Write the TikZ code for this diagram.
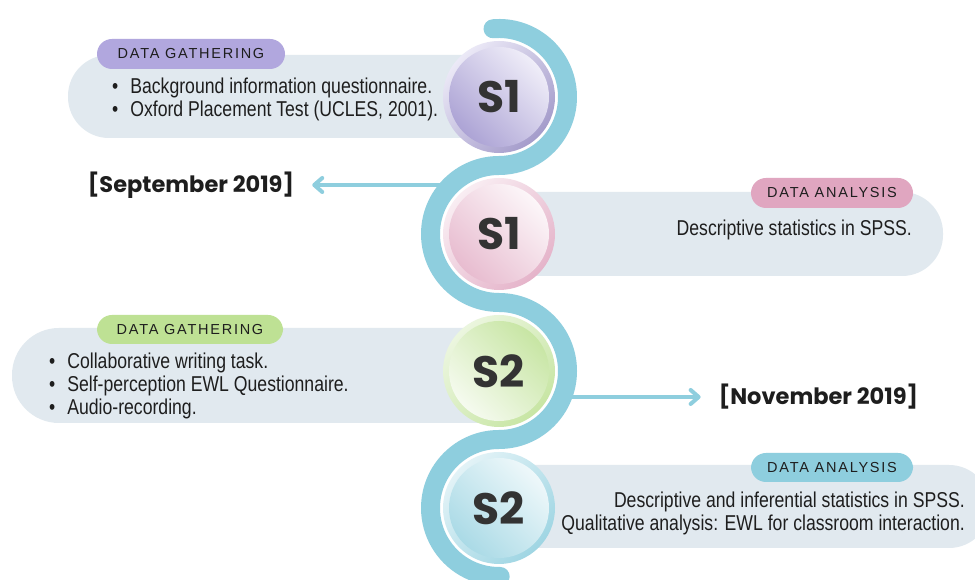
\documentclass[tikz,border=0pt]{standalone}
\usepackage{fontspec}
\setmainfont{Liberation Sans}
\newfontfamily\bodyfont{Liberation Sans}[FakeStretch=0.82]
\newfontfamily\tagfont{Liberation Sans}[LetterSpace=12]
\newfontfamily\stagefont{Poppins}
\usetikzlibrary{arrows.meta,positioning}
\definecolor{bandblue}{RGB}{142,206,222}
\definecolor{panelgrey}{RGB}{225,233,239}
\definecolor{inkdark}{RGB}{30,30,30}
\definecolor{stagegrey}{RGB}{51,51,51}
\definecolor{tagpurple}{RGB}{177,167,222}
\definecolor{tagpink}{RGB}{224,166,192}
\definecolor{taggreen}{RGB}{190,225,148}
\definecolor{tagblue}{RGB}{142,206,222}

\begin{document}
\begin{tikzpicture}[x=1pt, y=1pt,
    panel/.style={fill=panelgrey, rounded corners=41pt, minimum height=83pt, inner sep=0pt},
    tag/.style={rounded corners=15pt, minimum height=30pt, inner sep=0pt, text=inkdark, font=\tagfont\fontsize{14.5}{16}\selectfont},
    ring/.style={circle, minimum size=112pt, inner sep=0pt},
    disc/.style={circle, minimum size=100pt, inner sep=0pt, text=stagegrey, font=\stagefont\bfseries\fontsize{44}{44}\selectfont},
    band/.style={draw=bandblue, line width=19pt, line cap=round},
    arrow/.style={draw=bandblue, line width=4pt, -{Straight Barb[round, length=8pt, width=14pt]}, shorten >=18pt},
    date/.style={inner sep=0pt, text=inkdark, font=\stagefont\bfseries\fontsize{22.5}{26}\selectfont},
    body/.style={inner sep=0pt, text=inkdark, font=\bodyfont\fontsize{21.5}{23}\selectfont}
]
    \useasboundingbox (0,0) rectangle (975,580);
    \fill[white] (0,0) rectangle (975,580);

    % panels behind the stages
    \node[panel, minimum width=452pt] (p1) at (294,483.5) {};
    \node[panel, minimum width=463pt, minimum height=84pt] (p2) at (711.5,346) {};
    \node[panel, minimum width=508pt, minimum height=95pt, rounded corners=47pt] (p3) at (266,204.5) {};
    \node[panel, minimum width=510pt] (p4) at (735,73.5) {};

    % dates
    \node[date] (sep19) at (191,395) {[September 2019]};
    \node[date] (nov19) at (818.5,183) {[November 2019]};
    \coordinate (k1) at (452,395);
    \coordinate (k2) at (558,183);
    \draw[arrow] (k1) -- (sep19.east);
    \draw[arrow] (k2) -- (nov19.west);

    % winding band
    \draw[band] (499,483) ++(95:68.5)
        arc[start angle=95, end angle=-90, radius=68.5]
        arc[start angle=90, end angle=270, radius=68.5]
        arc[start angle=90, end angle=-90, radius=68.5]
        arc[start angle=90, end angle=271, radius=68.5];

    % stage 1, gathering
    \node[ring, top color=tagpurple!25, bottom color=tagpurple!90!black!95, shading angle=45] (r1) at (499,483) {};
    \node[disc, top color=tagpurple!20, bottom color=tagpurple!95!black!95, shading angle=-45] (g1) at (r1) {S1};

    % stage 1, analysis
    \node[ring, top color=tagpink!20, bottom color=tagpink!85, shading angle=45] (r2) at (499,346) {};
    \node[disc, top color=tagpink!10, bottom color=tagpink!75, shading angle=-45] (a1) at (r2) {S1};

    % stage 2, gathering
    \node[ring, top color=taggreen!30, bottom color=taggreen!85, shading angle=45] (r3) at (499,209) {};
    \node[disc, top color=taggreen!85, bottom color=taggreen!15, shading angle=-45] (g2) at (r3) {S2};

    % stage 2, analysis
    \node[ring, top color=tagblue!25, bottom color=tagblue!85, shading angle=45] (r4) at (499,72) {};
    \node[disc, top color=tagblue!15, bottom color=tagblue!75, shading angle=-45] (a2) at (r4) {S2};

    % tags
    \node[tag, fill=tagpurple, minimum width=188pt] (t1) at (191,526) {DATA GATHERING};
    \node[tag, fill=tagpink, minimum width=162pt] (t2) at (832,387) {DATA ANALYSIS};
    \node[tag, fill=taggreen, minimum width=186pt, minimum height=29pt] (t3) at (190,250.5) {DATA GATHERING};
    \node[tag, fill=tagblue, minimum width=162pt, minimum height=29pt] (t4) at (832,112.5) {DATA ANALYSIS};

    % texts
    \node[body, anchor=west, align=left] (b1) at (112,480.5)
        {\textbullet\hspace{12pt}Background information questionnaire.\\
         \textbullet\hspace{12pt}Oxford Placement Test (UCLES, 2001).};
    \node[body, anchor=east, align=right] (b2) at (912,350)
        {Descriptive statistics in SPSS.};
    \node[body, anchor=west, align=left] (b3) at (49,194.5)
        {\textbullet\hspace{12pt}Collaborative writing task.\\
         \textbullet\hspace{12pt}Self-perception EWL Questionnaire.\\
         \textbullet\hspace{12pt}Audio-recording.};
    \node[body, anchor=east, align=right] (b4) at (965,66.5)
        {Descriptive and inferential statistics in SPSS.\\
         Qualitative analysis: EWL for classroom interaction.};
\end{tikzpicture}
\end{document}
